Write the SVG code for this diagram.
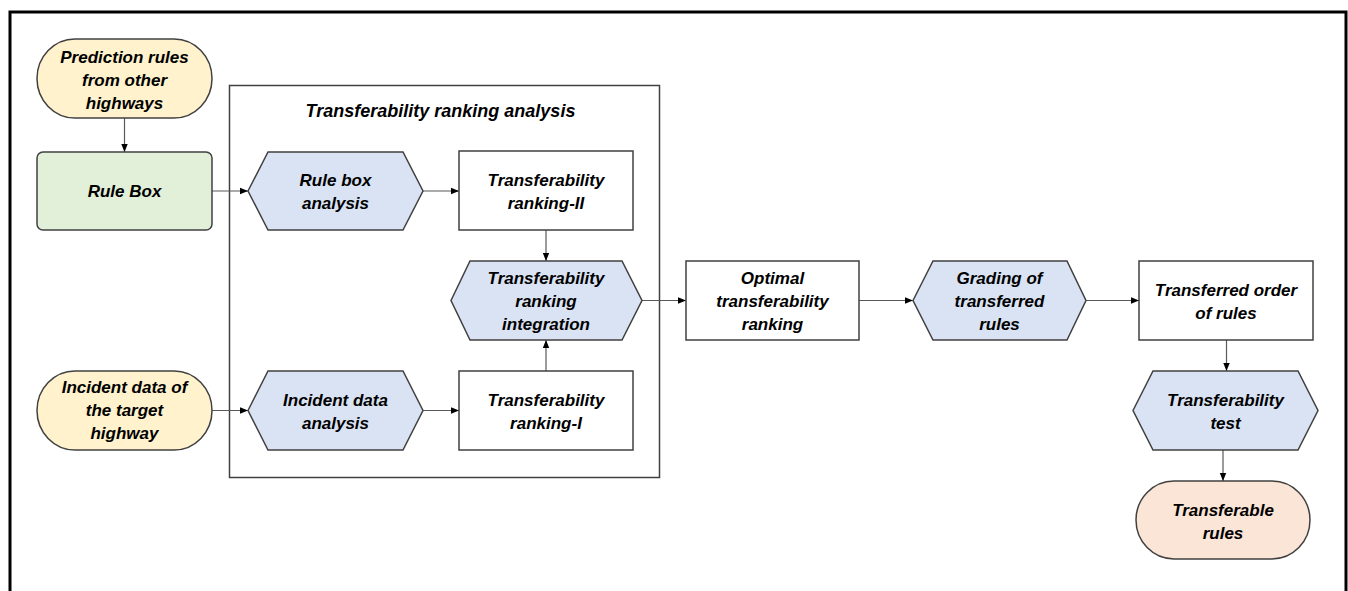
<svg xmlns="http://www.w3.org/2000/svg" width="1348" height="591" viewBox="0 0 1348 591">
  <style>
    .lbl { font-family: "Liberation Sans", Arial, sans-serif; font-weight: bold; font-style: italic; font-size: 17px; fill: #000; text-anchor: middle; }
    .title { font-size: 18px; }
    .shape { stroke: #404040; stroke-width: 1.5; }
    .input { fill: #FFF2CC; }
    .store { fill: #E2F0D9; }
    .proc { fill: #DAE3F3; }
    .plain { fill: #FFFFFF; }
    .result { fill: #FBE5D6; }
    .edge { fill: none; stroke: #595959; stroke-width: 1.2; marker-end: url(#arrow); }
  </style>
  <defs>
    <marker id="arrow" viewBox="0 0 10 10" refX="10" refY="5" markerWidth="8" markerHeight="8" markerUnits="userSpaceOnUse" orient="auto">
      <path d="M0,1 L10,5 L0,9 Z" fill="#000"/>
    </marker>
  </defs>

  <rect width="1348" height="591" fill="#FFFFFF"/>
  <!-- outer frame -->
  <rect x="10" y="12" width="1336" height="600" fill="none" stroke="#000" stroke-width="3"/>

  <!-- analysis container -->
  <g id="ranking-analysis">
    <rect x="229.5" y="85.5" width="430" height="392" fill="none" stroke="#404040" stroke-width="1.5"/>
    <text class="lbl title" x="440.5" y="117">Transferability ranking analysis</text>
  </g>

  <g id="connectors">
    <path class="edge" d="M124.5,118 V152"/>
    <path class="edge" d="M212,191 H248"/>
    <path class="edge" d="M212,410.5 H248"/>
    <path class="edge" d="M423,191 H459"/>
    <path class="edge" d="M423,410.5 H459"/>
    <path class="edge" d="M546,230 V261"/>
    <path class="edge" d="M546,371 V340"/>
    <path class="edge" d="M642,300.5 H686"/>
    <path class="edge" d="M859,300.5 H913"/>
    <path class="edge" d="M1086,300.5 H1139"/>
    <path class="edge" d="M1226.5,340 V371"/>
    <path class="edge" d="M1223,450 V481"/>
  </g>

  <g id="prediction-rules">
    <rect class="shape input" x="37" y="39" width="175" height="79" rx="38" ry="39.5"/>
    <text class="lbl" x="124.5" y="63">Prediction rules</text>
    <text class="lbl" x="124.5" y="86">from other</text>
    <text class="lbl" x="124.5" y="109">highways</text>
  </g>

  <g id="rule-box">
    <rect class="shape store" x="37" y="152" width="175" height="78" rx="6"/>
    <text class="lbl" x="124.5" y="197">Rule Box</text>
  </g>

  <g id="incident-data">
    <rect class="shape input" x="37" y="371" width="175" height="79" rx="38" ry="39.5"/>
    <text class="lbl" x="124.5" y="393">Incident data of</text>
    <text class="lbl" x="124.5" y="416">the target</text>
    <text class="lbl" x="124.5" y="439">highway</text>
  </g>

  <g id="rule-box-analysis">
    <polygon class="shape proc" points="248,191 268,152 403,152 423,191 403,230 268,230"/>
    <text class="lbl" x="335.5" y="186">Rule box</text>
    <text class="lbl" x="335.5" y="209">analysis</text>
  </g>

  <g id="incident-data-analysis">
    <polygon class="shape proc" points="248,410.5 268,371 403,371 423,410.5 403,450 268,450"/>
    <text class="lbl" x="335.5" y="406">Incident data</text>
    <text class="lbl" x="335.5" y="429">analysis</text>
  </g>

  <g id="ranking-ii">
    <rect class="shape plain" x="459" y="151" width="174" height="79"/>
    <text class="lbl" x="546" y="186">Transferability</text>
    <text class="lbl" x="546" y="209">ranking-II</text>
  </g>

  <g id="ranking-integration">
    <polygon class="shape proc" points="451,300.5 470,261 622,261 642,300.5 622,340 470,340"/>
    <text class="lbl" x="546" y="284">Transferability</text>
    <text class="lbl" x="546" y="307">ranking</text>
    <text class="lbl" x="546" y="330">integration</text>
  </g>

  <g id="ranking-i">
    <rect class="shape plain" x="459" y="371" width="174" height="79"/>
    <text class="lbl" x="546" y="406">Transferability</text>
    <text class="lbl" x="546" y="429">ranking-I</text>
  </g>

  <g id="optimal-ranking">
    <rect class="shape plain" x="686" y="261" width="173" height="79"/>
    <text class="lbl" x="772.5" y="284">Optimal</text>
    <text class="lbl" x="772.5" y="307">transferability</text>
    <text class="lbl" x="772.5" y="330">ranking</text>
  </g>

  <g id="grading">
    <polygon class="shape proc" points="913,300.5 933,261 1067,261 1086,300.5 1067,340 933,340"/>
    <text class="lbl" x="999.5" y="284">Grading of</text>
    <text class="lbl" x="999.5" y="307">transferred</text>
    <text class="lbl" x="999.5" y="330">rules</text>
  </g>

  <g id="transferred-order">
    <rect class="shape plain" x="1139" y="261" width="174" height="79"/>
    <text class="lbl" x="1226" y="296">Transferred order</text>
    <text class="lbl" x="1226" y="319">of rules</text>
  </g>

  <g id="transferability-test">
    <polygon class="shape proc" points="1133,410.5 1153,371 1298,371 1318,410.5 1298,450 1153,450"/>
    <text class="lbl" x="1225.5" y="406">Transferability</text>
    <text class="lbl" x="1225.5" y="429">test</text>
  </g>

  <g id="transferable-rules">
    <rect class="shape result" x="1136" y="481" width="174" height="78" rx="38" ry="39"/>
    <text class="lbl" x="1223" y="516">Transferable</text>
    <text class="lbl" x="1223" y="539">rules</text>
  </g>
</svg>
